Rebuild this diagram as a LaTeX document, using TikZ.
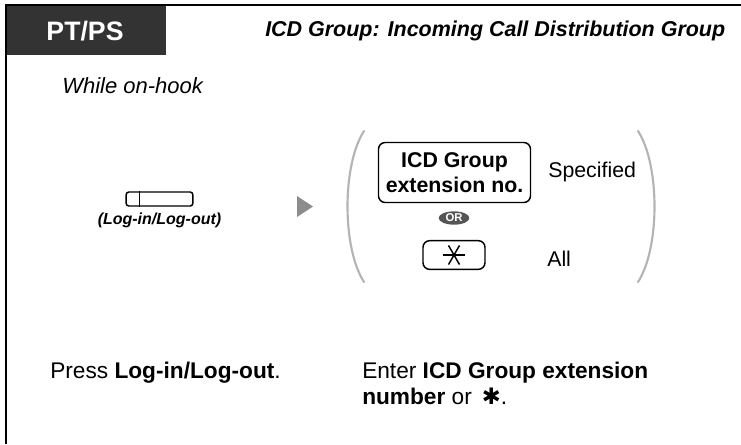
\documentclass[tikz,border=0pt]{standalone}
\usepackage{fontspec}
\setmainfont{Liberation Sans}
\newfontfamily\symfont{DejaVu Sans}
\usetikzlibrary{positioning, shapes.geometric}
\definecolor{hdrgray}{HTML}{333333}
\definecolor{pargray}{HTML}{B4B4B4}
\definecolor{arrowgray}{HTML}{8C8C8C}
\definecolor{orgray}{HTML}{555555}
\tikzset{keybox/.style={rectangle,draw,rounded corners=5pt,line width=1.1pt,align=center,inner sep=2pt},txt/.style={align=left,inner sep=0pt,font=\fontsize{16}{19.5}\selectfont},paren/.style={draw=pargray,line width=1.6pt,line cap=round}}

\begin{document}
\begin{tikzpicture}[x=0.75pt,y=-0.75pt]
\useasboundingbox (0,0) rectangle (741,444);
% frame and header
\fill[hdrgray] (5,5) rectangle (166,55);
\draw[line width=2.2pt] (6,444) -- (6,5) -- (741,5);
\node[text=white,font=\bfseries\fontsize{20}{22}\selectfont] (mode) at (85,31) {PT/PS};
\node[anchor=west,inner sep=0pt,font=\bfseries\itshape\fontsize{16.1}{18}\selectfont] (title) at (265,31) {ICD Group: Incoming Call Distribution Group};
\node[anchor=west,inner sep=0pt,font=\itshape\fontsize{16.5}{19}\selectfont] (cond) at (62,86) {While on-hook};

% log-in key
\node[draw,line width=1.1pt,rounded corners=2pt,minimum width=50pt,minimum height=10.5pt,inner sep=0pt] (lkey) at (159.5,199) {};
\draw[line width=1.1pt] ([xshift=10.5pt]lkey.north west) -- ([xshift=10.5pt]lkey.south west);
\node[below=4.5pt of lkey,inner sep=0pt,font=\bfseries\itshape\fontsize{12}{13}\selectfont] (lname) {(Log-in/Log-out)};

% step arrow
\fill[arrowgray] (297,196) -- (313,206.5) -- (297,217) -- cycle;

% choice
\draw[paren] (364,131) .. controls (342,165) and (342,248) .. (364,282);
\draw[paren] (638,131) .. controls (660,165) and (660,248) .. (638,282);
\node[keybox,minimum width=114pt,minimum height=45pt,font=\bfseries\fontsize{16}{19}\selectfont] (grp) at (454.5,172.5) {ICD Group\\extension no.};
\node[txt,anchor=west] (spec) at (548,172) {Specified};
\node[ellipse,fill=orgray,text=white,inner sep=0.3pt,minimum width=23pt,minimum height=10pt,font=\bfseries\fontsize{8.5}{8.5}\selectfont] (or) at (454,218) {OR};
\node[keybox,minimum width=46.5pt,minimum height=21.5pt] (star) at (454,255) {};
\foreach \a in {0,60,120}
  \draw[line width=1.1pt] (star.center) ++(\a:11) -- ++(\a+180:22);
\node[txt,anchor=west] (all) at (547,259) {All};

% descriptions
\node[txt,anchor=north west,font=\fontsize{17}{19.5}\selectfont] (d1) at (50,362) {Press \textbf{Log-in/Log-out}.};
\node[txt,anchor=north west,font=\fontsize{17}{19.5}\selectfont] (d2) at (362,362) {Enter \textbf{ICD Group extension}\\\textbf{number} or \,{\symfont\bfseries ✱}.};
\end{tikzpicture}
\end{document}
